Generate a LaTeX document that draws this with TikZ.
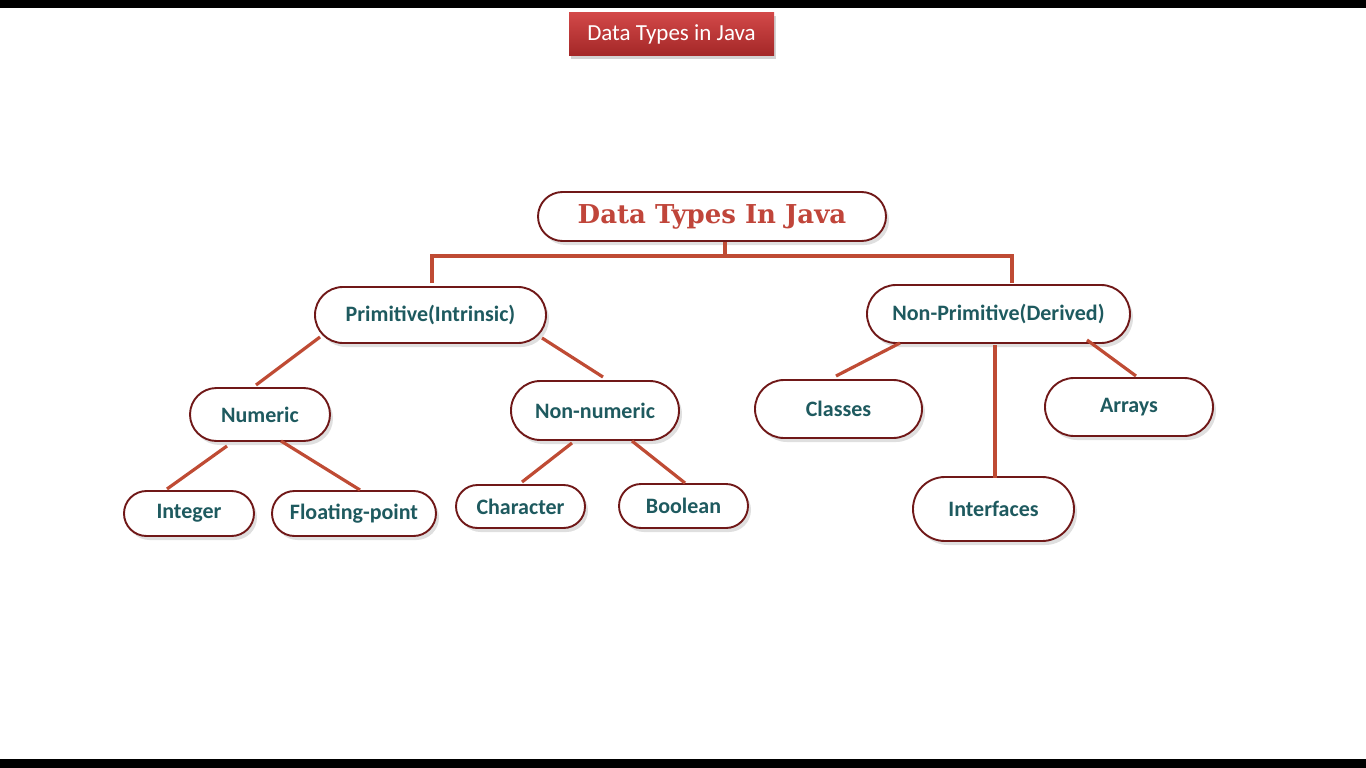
\documentclass[tikz,border=0pt]{standalone}
\usepackage{fontspec}
\setmainfont{Carlito}
\newfontfamily\headfont{DejaVu Serif}
\usetikzlibrary{shadows,shapes.misc}
\definecolor{conncol}{HTML}{BF4B34}
\definecolor{headcol}{HTML}{C0453A}
\definecolor{bordcol}{HTML}{701818}
\definecolor{txtcol}{HTML}{1E5A5F}
\definecolor{titletop}{HTML}{D24848}
\definecolor{titlebot}{HTML}{A32727}
\tikzset{
  pill/.style={rounded rectangle, draw=bordcol, line width=1.9pt, fill=white,
    inner sep=0pt, font=\fontsize{22}{26}\selectfont\bfseries, text=txtcol,
    drop shadow={opacity=0.25, shadow xshift=3pt, shadow yshift=-4pt}},
  conn/.style={draw=conncol, line width=3.2pt},
  titlebox/.style={top color=titletop, bottom color=titlebot, draw=none,
    inner sep=0pt, text=white, font=\fontsize{23}{26}\selectfont,
    drop shadow={opacity=0.35, shadow xshift=2pt, shadow yshift=-3pt}},
}
\begin{document}
\begin{tikzpicture}[x=1pt,y=-1pt]
\useasboundingbox (0,0) rectangle (1366,768);
\fill[black] (0,0) rectangle (1366,8);
\fill[black] (0,759) rectangle (1366,768);
\node[titlebox, minimum width=205pt, minimum height=43pt] (title) at (671.5,34.5) {Data Types in Java};
\node[pill, minimum width=348pt, minimum height=49pt,
  font=\headfont\fontsize{26}{30}\selectfont\bfseries, text=headcol] (main) at (712,216.5) {Data Types In Java};
\node[pill, minimum width=231pt, minimum height=56pt] (prim) at (430.5,315) {Primitive(Intrinsic)};
\node[pill, minimum width=263pt, minimum height=58pt] (np) at (998.5,314) {Non-Primitive(Derived)};
\node[pill, minimum width=140pt, minimum height=53pt] (num) at (260,414.5) {Numeric};
\node[pill, minimum width=168pt, minimum height=59pt] (nn) at (595,410.5) {Non-numeric};
\node[pill, minimum width=167pt, minimum height=58pt] (cls) at (838.5,409) {Classes};
\node[pill, minimum width=168pt, minimum height=58pt] (arr) at (1129,407) {Arrays};
\node[pill, minimum width=161pt, minimum height=64pt] (intf) at (993.5,509) {Interfaces};
\node[pill, minimum width=130pt, minimum height=45pt] (int) at (189,513.5) {Integer};
\node[pill, minimum width=164pt, minimum height=45pt] (flt) at (354,513.5) {Floating-point};
\node[pill, minimum width=129pt, minimum height=43pt] (chr) at (520.5,506.5) {Character};
\node[pill, minimum width=129pt, minimum height=44pt] (bool) at (683.5,506) {Boolean};
% bus
\coordinate (bus) at ([xshift=13pt,yshift=-14pt]main.south);
\draw[conn] ([xshift=13pt]main.south) -- (bus);
\draw[conn] ([xshift=1.5pt,yshift=3pt]prim.north) |- (bus);
\draw[conn] ([xshift=13.5pt,yshift=1pt]np.north) |- (bus);
% primitive branch
\draw[conn] ([xshift=-110.5pt,yshift=-22pt]prim.center) -- ([xshift=-4pt,yshift=29.5pt]num.center);
\draw[conn] ([xshift=111.5pt,yshift=-23pt]prim.center) -- ([xshift=8pt,yshift=33.5pt]nn.center);
\draw[conn] ([xshift=-33pt,yshift=-31.5pt]num.center) -- ([xshift=-22pt,yshift=24.5pt]int.center);
\draw[conn] ([xshift=21pt,yshift=-26.5pt]num.center) -- ([xshift=6pt,yshift=23.5pt]flt.center);
\draw[conn] ([xshift=-23pt,yshift=-32.5pt]nn.center) -- ([xshift=1.5pt,yshift=24.5pt]chr.center);
\draw[conn] ([xshift=37pt,yshift=-30.5pt]nn.center) -- ([xshift=1.5pt,yshift=23pt]bool.center);
% non-primitive branch
\draw[conn] ([xshift=-98.5pt,yshift=-29pt]np.center) -- ([xshift=-2.5pt,yshift=33pt]cls.center);
\draw[conn] ([xshift=-3.5pt,yshift=-31pt]np.center) -- ([xshift=1.5pt,yshift=31pt]intf.center);
\draw[conn] ([xshift=88.5pt,yshift=-26pt]np.center) -- ([xshift=7pt,yshift=31pt]arr.center);
\end{tikzpicture}
\end{document}
